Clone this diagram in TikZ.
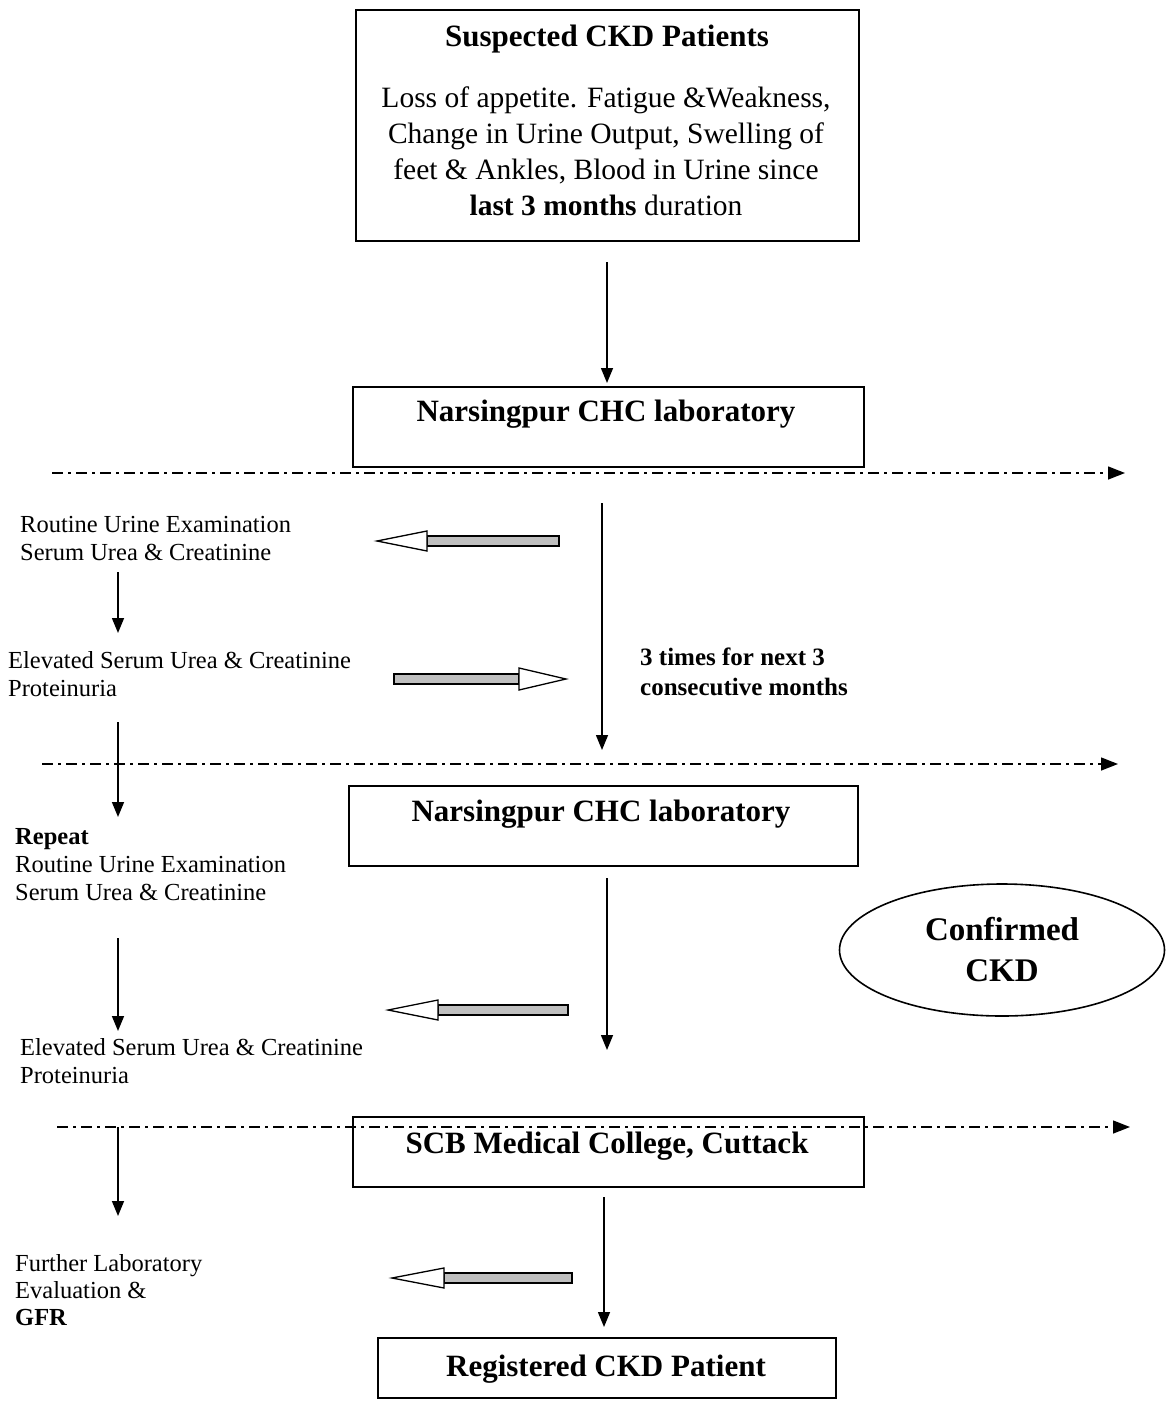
\documentclass[tikz,border=0pt]{standalone}
\usepackage{fontspec}
\setmainfont{Liberation Serif}
\usetikzlibrary{arrows.meta,shapes.geometric}
\newcommand{\hollowleft}[5]{% name, tip x, head base x, tail x, y
  \coordinate (#1-tip) at (#2,#5);
  \coordinate (#1-tail) at (#4,#5);
  \draw[hshaft] (#3,#5-5) rectangle (#4,#5+5);
  \draw[hhead] (#1-tip) -- (#3,#5-10) -- (#3,#5+10) -- cycle;
}
\newcommand{\hollowright}[5]{% name, tail x, head base x, tip x, y
  \coordinate (#1-tail) at (#2,#5);
  \coordinate (#1-tip) at (#4,#5);
  \draw[hshaft] (#2,#5-5) rectangle (#3,#5+5);
  \draw[hhead] (#1-tip) -- (#3,#5-11) -- (#3,#5+11) -- cycle;
}
\begin{document}
\begin{tikzpicture}[x=1pt,y=-1pt,
  box/.style={draw, line width=1.6pt, inner sep=0, fill=none},
  arr/.style={line width=1.5pt, -{Triangle[length=15pt,width=12pt]}},
  sepline/.style={line width=1.4pt, dash pattern=on 11pt off 5pt on 3pt off 5pt, -{Triangle[length=17pt,width=13pt]}},
  ttl/.style={font=\fontsize{31}{36}\selectfont\bfseries, inner sep=0},
  body/.style={font=\fontsize{29.5}{36}\selectfont, align=center, inner sep=0},
  side/.style={font=\fontsize{24.5}{28}\selectfont, align=left, inner sep=0, anchor=west},
  hshaft/.style={line width=1.3pt, fill=gray!50},
  hhead/.style={line width=1.3pt, fill=white, line join=miter}
]
\useasboundingbox (0,0) rectangle (1173,1410);

% boxes
\node[box, minimum width=503pt, minimum height=231pt] (b1) at (607.5,125.5) {};
\node[box, minimum width=511pt, minimum height=80pt] (b2) at (608.5,427) {};
\node[box, minimum width=509pt, minimum height=80pt] (b3) at (603.5,826) {};
\node[box, minimum width=511pt, minimum height=70pt] (b4) at (608.5,1152) {};
\node[box, minimum width=458pt, minimum height=60pt] (b5) at (607,1368) {};
\node[draw, line width=1.6pt, ellipse, minimum width=325pt, minimum height=132pt, inner sep=0] (ell) at (1002,950) {};

% box texts
\node[ttl] (b1t) at (607,39) {Suspected CKD Patients};
\node[body] (b1b) at (606,151) {Loss of appetite. Fatigue \&Weakness,\\Change in Urine Output, Swelling of\\feet \& Ankles, Blood in Urine since\\\textbf{last 3 months} duration};
\node[ttl] (b2t) at (606,414) {Narsingpur CHC laboratory};
\node[ttl] (b3t) at (601,814) {Narsingpur CHC laboratory};
\node[ttl] (b4t) at (607,1146) {SCB Medical College, Cuttack};
\node[ttl] (b5t) at (606,1369) {Registered CKD Patient};
\node[font=\fontsize{33}{41}\selectfont\bfseries, align=center, inner sep=0] (ellt) at (1002,950) {Confirmed\\CKD};
\node[font=\fontsize{25}{30}\selectfont\bfseries, align=left, inner sep=0, anchor=west] (times) at (640,672) {3 times for next 3\\consecutive months};

% side texts
\node[side] (t1) at (20,539) {Routine Urine Examination\\Serum Urea \& Creatinine};
\node[side] (t2) at (8,674) {Elevated Serum Urea \& Creatinine\\Proteinuria};
\node[side] (t3) at (15,865) {\textbf{Repeat}\\Routine Urine Examination\\Serum Urea \& Creatinine};
\node[side] (t4) at (20,1061) {Elevated Serum Urea \& Creatinine\\Proteinuria};
\node[side, font=\fontsize{24.5}{27}\selectfont] (t5) at (15,1290) {Further Laboratory\\Evaluation \&\\\textbf{GFR}};

% separator lines
\coordinate (d1a) at (52,473);  \coordinate (d1b) at (1125,473);
\coordinate (d2a) at (42,764);  \coordinate (d2b) at (1118,764);
\coordinate (d3a) at (57,1127); \coordinate (d3b) at (1130,1127);
\draw[sepline] (d1a) -- (d1b);
\draw[sepline] (d2a) -- (d2b);
\draw[sepline] (d3a) -- (d3b);

% main vertical arrows
\coordinate (a1s) at (607,262);  \coordinate (a1e) at (607,383);
\coordinate (a2s) at (602,503);  \coordinate (a2e) at (602,750);
\coordinate (a3s) at (607,878);  \coordinate (a3e) at (607,1050);
\coordinate (a4s) at (604,1197); \coordinate (a4e) at (604,1327);
\draw[arr] (a1s) -- (a1e);
\draw[arr] (a2s) -- (a2e);
\draw[arr] (a3s) -- (a3e);
\draw[arr] (a4s) -- (a4e);

% left vertical arrows
\coordinate (l1s) at (118,572);  \coordinate (l1e) at (118,633);
\coordinate (l2s) at (118,722);  \coordinate (l2e) at (118,817);
\coordinate (l3s) at (118,938);  \coordinate (l3e) at (118,1031);
\coordinate (l4s) at (118,1127); \coordinate (l4e) at (118,1216);
\draw[arr] (l1s) -- (l1e);
\draw[arr] (l2s) -- (l2e);
\draw[arr] (l3s) -- (l3e);
\draw[arr] (l4s) -- (l4e);

% hollow block arrows
\hollowleft{h1}{377}{427}{559}{541}
\hollowright{h2}{394}{519}{566}{679}
\hollowleft{h3}{388}{438}{568}{1010}
\hollowleft{h4}{392}{444}{572}{1278}
\end{tikzpicture}
\end{document}
